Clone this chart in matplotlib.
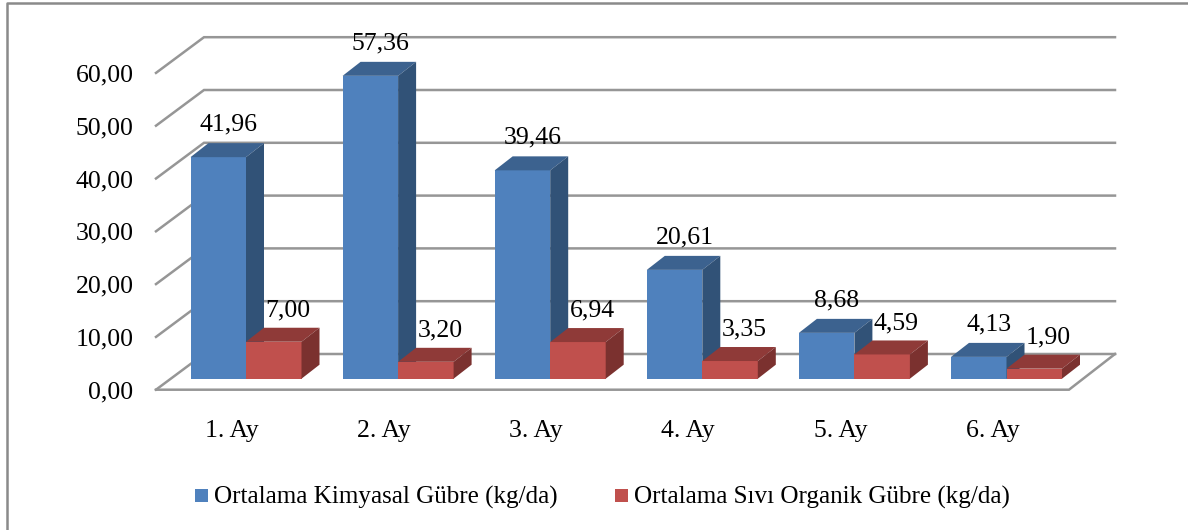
import matplotlib
matplotlib.use('Agg')
import matplotlib.pyplot as plt
from matplotlib.patches import Polygon, Rectangle

# values
months = ['1. Ay', '2. Ay', '3. Ay', '4. Ay', '5. Ay', '6. Ay']
kimyasal = [41.96, 57.36, 39.46, 20.61, 8.68, 4.13]
organik = [7.00, 3.20, 6.94, 3.35, 4.59, 1.90]
y_ticks = [0, 10, 20, 30, 40, 50, 60]
legend_names = ['Ortalama Kimyasal Gübre (kg/da)', 'Ortalama Sıvı Organik Gübre (kg/da)']

W, H = 1188, 530
X0, PITCH = 246.0, 152.1   # px of first group centre, px per category
Y0, UNIT = 378.7, 5.28     # px of value 0 on the bar front, px per value unit

plt.rcParams['font.family'] = ['Liberation Serif', 'DejaVu Serif']
FS = 18.5
GRID = '#969696'


# pixel helpers, so the axes stay in category/value units
def px_x(n):
    return n / PITCH


def px_y(n):
    return n / UNIT


fig = plt.figure(figsize=(W / 100, H / 100), dpi=100, facecolor='white')
ax = fig.add_axes([0, 0, 1, 1])
ax.set_xlim(-X0 / PITCH, (W - X0) / PITCH)
ax.set_ylim((Y0 - H) / UNIT, Y0 / UNIT)
ax.axis('off')

# outer frame, only left and top are inside the picture
fig.add_artist(plt.Line2D([6.5 / W, 6.5 / W, 1], [0, 1 - 2.5 / H, 1 - 2.5 / H],
                          color='#8a8a8a', lw=1.8))

# floor and wall grid
left_f, left_b = 156 - X0, 204 - X0
right_f, right_b = 1069 - X0, 1115 - X0
front_off, back_off = px_y(Y0 - 389.7), px_y(Y0 - 354)
for t in y_ticks:
    ax.plot([px_x(left_f), px_x(left_b), px_x(right_b)],
            [t + front_off, t + back_off, t + back_off], color=GRID, lw=1.8, zorder=1,
            solid_joinstyle='miter')
    ax.text(px_x(133.5 - X0), t + front_off, f'{t},00', ha='right', va='center_baseline',
            fontsize=FS, color='black')
ax.plot([px_x(left_f), px_x(right_f), px_x(right_b)],
        [front_off, front_off, back_off], color=GRID, lw=1.8, zorder=1, solid_joinstyle='miter')

# 3D bars
bar_w = px_x(55.5)
dx, dy = px_x(18), px_y(14)


def bar3d(x, val, front, top, side, z):
    ax.bar(x, val, width=bar_w, align='edge', color=front, zorder=z)
    ax.add_patch(Polygon([(x, val), (x + dx, val + dy), (x + bar_w + dx, val + dy), (x + bar_w, val)],
                         fc=top, ec='none', zorder=z))
    ax.add_patch(Polygon([(x + bar_w, 0), (x + bar_w + dx, dy), (x + bar_w + dx, val + dy), (x + bar_w, val)],
                         fc=side, ec='none', zorder=z))


for i in range(len(months)):
    bar3d(i - bar_w, kimyasal[i], '#4f81bd', '#3c628f', '#315277', 3)
    bar3d(i, organik[i], '#c0504d', '#8f3a38', '#7b312f', 4)
    ax.text(i - bar_w / 2 + px_x(10), kimyasal[i] + px_y(35), f'{kimyasal[i]:.2f}'.replace('.', ','),
            ha='center', va='center_baseline', fontsize=FS, zorder=6)
    ax.text(i + bar_w / 2 + px_x(14), organik[i] + px_y(34), f'{organik[i]:.2f}'.replace('.', ','),
            ha='center', va='center_baseline', fontsize=FS, zorder=6)
    ax.text(i - px_x(14), px_y(Y0 - 428), months[i], ha='center', va='center_baseline', fontsize=FS)

# legend
leg_y = px_y(Y0 - 495)
for name, col, mx in zip(legend_names, ['#4f81bd', '#c0504d'], [195, 615]):
    ax.add_patch(Rectangle((px_x(mx - X0), leg_y - px_y(6.5)), px_x(12.5), px_y(13), fc=col, ec='none'))
    ax.text(px_x(mx + 18.5 - X0), leg_y, name, ha='left', va='center_baseline', fontsize=FS - 0.4)

fig.savefig('out.png', dpi=100)
